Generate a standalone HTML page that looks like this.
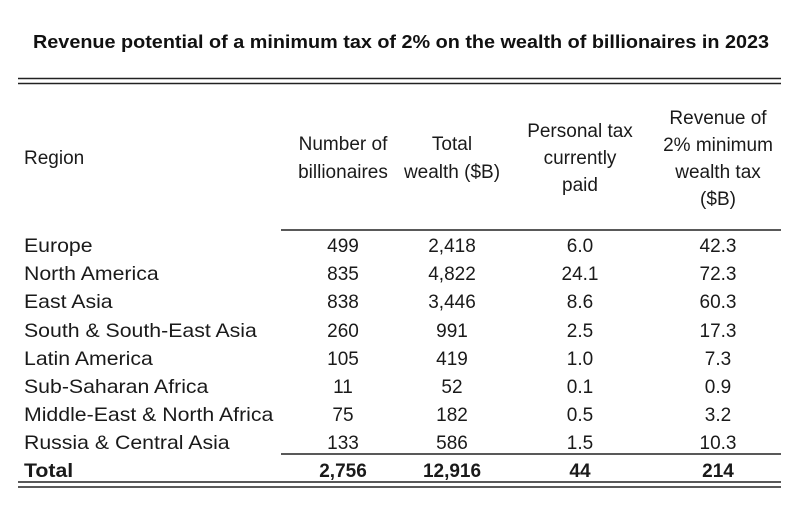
<!DOCTYPE html>
<html><head><meta charset="utf-8"><style>
html,body{margin:0;padding:0;background:#fff;}
svg{display:block;font-family:"Liberation Sans",Arial,sans-serif;}
</style></head><body>
<svg width="800" height="510" viewBox="0 0 800 510" xmlns="http://www.w3.org/2000/svg">
<rect width="800" height="510" fill="#fff"/>
<text x="401" y="48" font-size="18.5" font-weight="bold" text-anchor="middle" textLength="736" lengthAdjust="spacingAndGlyphs" fill="#111">Revenue potential of a minimum tax of 2% on the wealth of billionaires in 2023</text>
<g stroke="#222" stroke-width="1.6">
<line x1="18" y1="78.5" x2="781" y2="78.5"/>
<line x1="18" y1="83.5" x2="781" y2="83.5"/>
<line x1="281" y1="230" x2="781" y2="230"/>
<line x1="281" y1="454" x2="781" y2="454"/>
<line x1="18" y1="482" x2="781" y2="482"/>
<line x1="18" y1="487" x2="781" y2="487"/>
</g>
<g font-size="19" fill="#1a1a1a">
<text x="24" y="164">Region</text>
<g text-anchor="middle">
<text x="343" y="150">Number of</text>
<text x="343" y="178">billionaires</text>
<text x="452" y="150">Total</text>
<text x="452" y="178">wealth ($B)</text>
<text x="580" y="137">Personal tax</text>
<text x="580" y="164">currently</text>
<text x="580" y="191">paid</text>
<text x="718" y="124">Revenue of</text>
<text x="718" y="151">2% minimum</text>
<text x="718" y="178">wealth tax</text>
<text x="718" y="205">($B)</text>
</g>
<g transform="translate(24,0) scale(1.12,1) translate(-24,0)">
<text x="24" y="252">Europe</text>
<text x="24" y="280">North America</text>
<text x="24" y="308">East Asia</text>
<text x="24" y="337">South &amp; South-East Asia</text>
<text x="24" y="365">Latin America</text>
<text x="24" y="393">Sub-Saharan Africa</text>
<text x="24" y="421">Middle-East &amp; North Africa</text>
<text x="24" y="449">Russia &amp; Central Asia</text>
<text x="24" y="477" font-weight="bold">Total</text>
</g>
<g text-anchor="middle">
<text x="343" y="252">499</text><text x="452" y="252">2,418</text><text x="580" y="252">6.0</text><text x="718" y="252">42.3</text>
<text x="343" y="280">835</text><text x="452" y="280">4,822</text><text x="580" y="280">24.1</text><text x="718" y="280">72.3</text>
<text x="343" y="308">838</text><text x="452" y="308">3,446</text><text x="580" y="308">8.6</text><text x="718" y="308">60.3</text>
<text x="343" y="337">260</text><text x="452" y="337">991</text><text x="580" y="337">2.5</text><text x="718" y="337">17.3</text>
<text x="343" y="365">105</text><text x="452" y="365">419</text><text x="580" y="365">1.0</text><text x="718" y="365">7.3</text>
<text x="343" y="393">11</text><text x="452" y="393">52</text><text x="580" y="393">0.1</text><text x="718" y="393">0.9</text>
<text x="343" y="421">75</text><text x="452" y="421">182</text><text x="580" y="421">0.5</text><text x="718" y="421">3.2</text>
<text x="343" y="449">133</text><text x="452" y="449">586</text><text x="580" y="449">1.5</text><text x="718" y="449">10.3</text>
<g font-weight="bold">
<text x="343" y="477">2,756</text><text x="452" y="477">12,916</text><text x="580" y="477">44</text><text x="718" y="477">214</text>
</g>
</g>
</g>
</svg>
</body></html>
